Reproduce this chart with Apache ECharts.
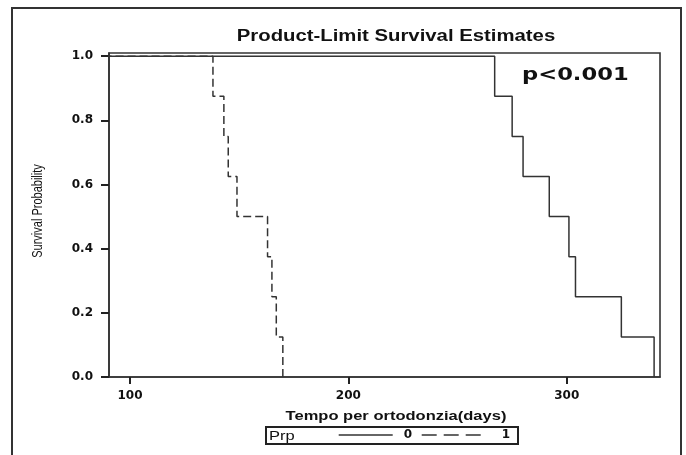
<!DOCTYPE html>
<html><head><meta charset="utf-8">
<script src="https://cdn.jsdelivr.net/npm/echarts@6/dist/echarts.min.js"></script>
<style>html,body{margin:0;padding:0;background:#fff}#c{width:686px;height:455px}</style>
</head><body><div id="c"></div>
<script>
// ---- data ----
const chartTitle = 'Product-Limit Survival Estimates';
const xAxisTitle = 'Tempo per ortodonzia(days)';
const yAxisTitle = 'Survival Probability';
const xTicks = [100, 200, 300];
const yTicks = [0, 0.2, 0.4, 0.6, 0.8, 1.0];
const groupNames = ['0', '1'];
const legendTitle = 'Prp';
const pValueText = 'p<0.001';
// Kaplan-Meier: event times (days) and survival after each event
const times0 = [0, 267, 275, 280, 292, 301, 304, 325, 340];
const surv0  = [1, 0.875, 0.75, 0.625, 0.5, 0.375, 0.25, 0.125, 0];
const times1 = [0, 138, 143, 145, 149, 163, 165, 167, 170];
const surv1  = [1, 0.875, 0.75, 0.625, 0.5, 0.375, 0.25, 0.125, 0];

const pairs = (t, s) => t.map((v, i) => [v, s[i]]);
const SX = 1.27; // horizontal stretch of the reference picture
const ink = '#222';
const arial = '"Liberation Sans", Arial, sans-serif';
const dejavu = '"DejaVu Sans", sans-serif';
const noSymbol = {color: 'rgba(0,0,0,0)', borderColor: 'rgba(0,0,0,0)', borderWidth: 0, opacity: 0};

const chart = echarts.init(document.getElementById('c'), null, {renderer: 'canvas'});
chart.setOption({
  animation: false,
  backgroundColor: '#fff',
  grid: {left: 109, right: 26, top: 53, bottom: 78, show: true,
         borderColor: '#333', borderWidth: 1.6, backgroundColor: 'transparent'},
  xAxis: {
    type: 'value', min: 90.4, max: 342.7,
    axisLine: {show: true, onZero: false, lineStyle: {color: '#333', width: 1.6}},
    axisTick: {show: true, customValues: xTicks, length: 7, lineStyle: {color: ink, width: 2}},
    axisLabel: {customValues: xTicks, margin: 13, color: '#111', fontFamily: dejavu,
                fontWeight: 'bold', fontSize: 12},
    splitLine: {show: false}
  },
  yAxis: {
    type: 'value', min: 0, max: 1.01,
    axisLine: {show: true, lineStyle: {color: '#333', width: 1.6}},
    axisTick: {show: true, customValues: yTicks, length: 8, lineStyle: {color: ink, width: 2}},
    axisLabel: {customValues: yTicks, margin: 16, color: '#111', fontFamily: dejavu,
                fontWeight: 'bold', fontSize: 12, formatter: v => v.toFixed(1)},
    splitLine: {show: false}
  },
  legend: [
    {data: [groupNames[0]], left: 338, top: 429, padding: 0, itemWidth: 54, itemHeight: 14, itemGap: 0,
     itemStyle: noSymbol,
     textStyle: {color: '#111', fontFamily: dejavu, fontWeight: 'bold', fontSize: 12, padding: [0, 0, 0, 6]},
     lineStyle: {width: 1.4, color: '#333', type: 'solid'}},
    {data: [groupNames[1]], left: 421, top: 429, padding: 0, itemWidth: 60, itemHeight: 14, itemGap: 0,
     itemStyle: noSymbol,
     textStyle: {color: '#111', fontFamily: dejavu, fontWeight: 'bold', fontSize: 12, padding: [0, 0, 0, 15]},
     lineStyle: {width: 1.4, color: '#333', type: [15, 7]}}
  ],
  series: [
    {name: groupNames[0], type: 'line', step: 'end', symbol: 'none',
     lineStyle: {color: '#333', width: 1.5}, itemStyle: {color: '#333'},
     data: pairs(times0, surv0)},
    {name: groupNames[1], type: 'line', step: 'end', symbol: 'none',
     lineStyle: {color: '#333', width: 1.5, type: [8, 4]}, itemStyle: {color: '#333'},
     data: pairs(times1, surv1)}
  ],
  graphic: [
    {type: 'rect', shape: {x: 12, y: 8, width: 669, height: 520},
     style: {fill: null, stroke: '#333', lineWidth: 2}, silent: true},
    {type: 'text', x: 396, y: 37, scaleX: SX,
     style: {text: chartTitle, x: 0, y: 0, align: 'center', verticalAlign: 'middle',
             font: 'bold 16px ' + arial, fill: '#111'}},
    {type: 'text', x: 522, y: 76, scaleX: 1.33,
     style: {text: pValueText, x: 0, y: 0, align: 'left', verticalAlign: 'middle',
             font: 'bold 17px ' + dejavu, fill: '#111'}},
    {type: 'text', x: 396, y: 416, scaleX: SX,
     style: {text: xAxisTitle, x: 0, y: 0, align: 'center', verticalAlign: 'middle',
             font: 'bold 13px ' + arial, fill: '#111'}},
    {type: 'text', x: 38, y: 211, rotation: Math.PI / 2, scaleY: 1.3,
     style: {text: yAxisTitle, x: 0, y: 0, align: 'center', verticalAlign: 'middle',
             font: '11px ' + arial, fill: '#111'}},
    {type: 'rect', shape: {x: 266, y: 427, width: 252, height: 17},
     style: {fill: null, stroke: ink, lineWidth: 2}, silent: true},
    {type: 'text', x: 269, y: 436, scaleX: SX,
     style: {text: legendTitle, x: 0, y: 0, align: 'left', verticalAlign: 'middle',
             font: '13px ' + arial, fill: '#111'}}
  ]
});
</script>
</body></html>
